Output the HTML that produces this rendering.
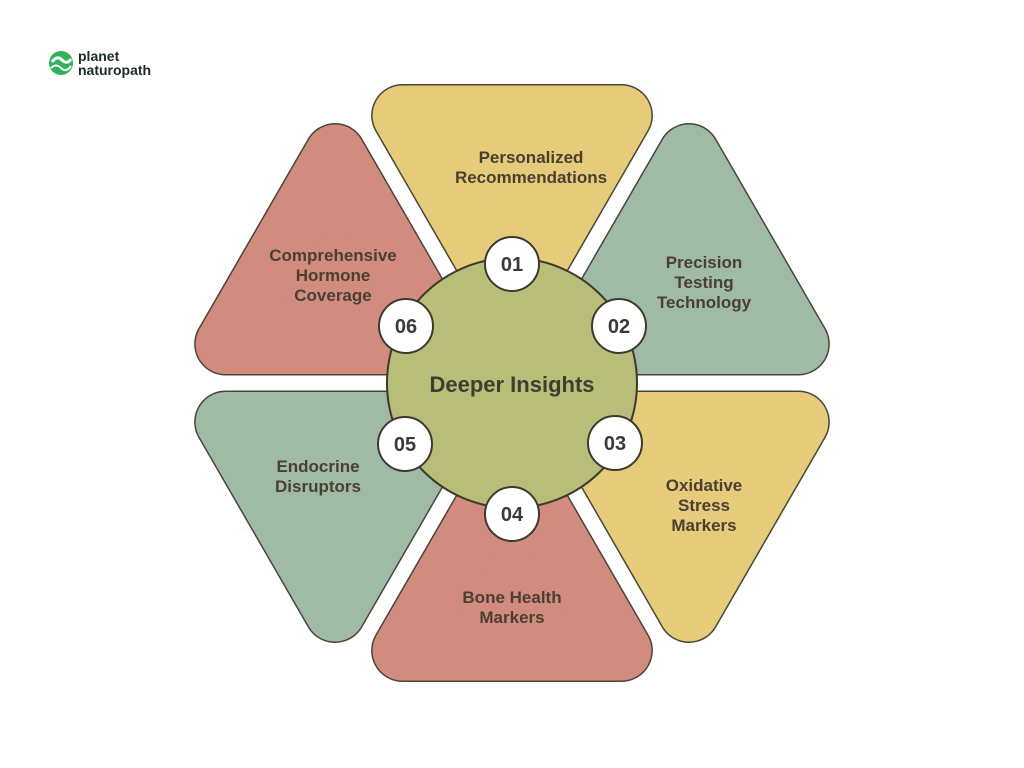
<!DOCTYPE html>
<html><head><meta charset="utf-8"><style>
html,body{margin:0;padding:0;background:#fff;}
svg{display:block;}
text{font-family:"Liberation Sans",sans-serif;font-weight:bold;}
</style></head><body>
<svg width="1024" height="768" viewBox="0 0 1024 768">
<defs>
<polygon id="tri" points="402.6,115.5 621.4,115.5 512,305"/>
</defs>
<g stroke-linejoin="round">
<g transform="rotate(0 512 383)"><use href="#tri" fill="#e6cb7b" stroke="#4a4535" stroke-width="63"/><use href="#tri" fill="#e6cb7b" stroke="#e6cb7b" stroke-width="60"/></g>
<g transform="rotate(60 512 383)"><use href="#tri" fill="#9fbba6" stroke="#4a4535" stroke-width="63"/><use href="#tri" fill="#9fbba6" stroke="#9fbba6" stroke-width="60"/></g>
<g transform="rotate(120 512 383)"><use href="#tri" fill="#e6cb7b" stroke="#4a4535" stroke-width="63"/><use href="#tri" fill="#e6cb7b" stroke="#e6cb7b" stroke-width="60"/></g>
<g transform="rotate(180 512 383)"><use href="#tri" fill="#d18b7f" stroke="#4a4535" stroke-width="63"/><use href="#tri" fill="#d18b7f" stroke="#d18b7f" stroke-width="60"/></g>
<g transform="rotate(240 512 383)"><use href="#tri" fill="#9fbba6" stroke="#4a4535" stroke-width="63"/><use href="#tri" fill="#9fbba6" stroke="#9fbba6" stroke-width="60"/></g>
<g transform="rotate(300 512 383)"><use href="#tri" fill="#d18b7f" stroke="#4a4535" stroke-width="63"/><use href="#tri" fill="#d18b7f" stroke="#d18b7f" stroke-width="60"/></g>
</g>
<circle cx="512" cy="383" r="125" fill="#b9bd7a" stroke="#3d3a2c" stroke-width="2"/>
<g fill="#fff" stroke="#3d3a2c" stroke-width="2">
<circle cx="512" cy="264" r="27"/>
<circle cx="619" cy="326" r="27"/>
<circle cx="615" cy="443" r="27"/>
<circle cx="512" cy="514" r="27"/>
<circle cx="405" cy="444" r="27"/>
<circle cx="406" cy="326" r="27"/>
</g>
<g fill="#3a3a3a" font-size="20" text-anchor="middle">
<text x="512" y="271">01</text>
<text x="619" y="333">02</text>
<text x="615" y="450">03</text>
<text x="512" y="521">04</text>
<text x="405" y="451">05</text>
<text x="406" y="333">06</text>
</g>
<text x="512" y="392" font-size="22" fill="#3e3e30" text-anchor="middle">Deeper Insights</text>
<g fill="#4a4030" font-size="17" text-anchor="middle">
<text x="531" y="163">Personalized</text><text x="531" y="183">Recommendations</text>
<text x="704" y="268">Precision</text><text x="704" y="288">Testing</text><text x="704" y="308">Technology</text>
<text x="704" y="491">Oxidative</text><text x="704" y="511">Stress</text><text x="704" y="531">Markers</text>
<text x="512" y="603">Bone Health</text><text x="512" y="623">Markers</text>
<text x="318" y="472">Endocrine</text><text x="318" y="492">Disruptors</text>
<text x="333" y="261">Comprehensive</text><text x="333" y="281">Hormone</text><text x="333" y="301">Coverage</text>
</g>
<circle cx="61" cy="63" r="12" fill="#2fb35a"/>
<path d="M52,62 q5,-7 10,-2 q5,5 9,-1" stroke="#fff" stroke-width="3" fill="none"/>
<path d="M51,68 q5,-5 10,0 q5,5 10,-2" stroke="#fff" stroke-width="2" fill="none"/>
<text x="78" y="61" font-size="14" fill="#1e2a22">planet</text>
<text x="78" y="75" font-size="14" fill="#1e2a22">naturopath</text>
</svg>
</body></html>
